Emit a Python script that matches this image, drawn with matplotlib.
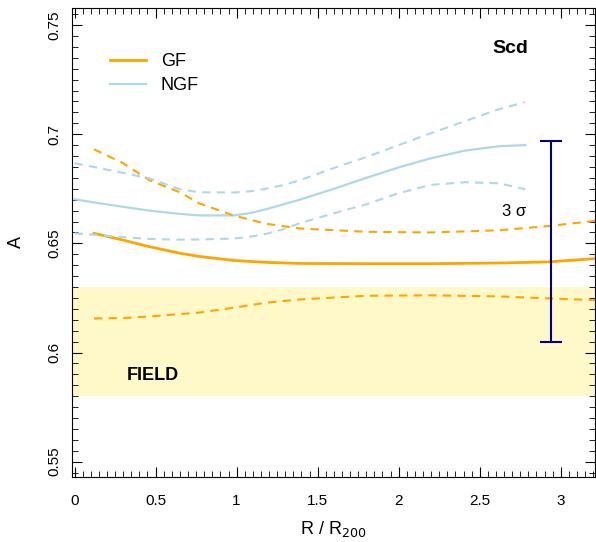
import matplotlib
matplotlib.use("Agg")
import matplotlib.pyplot as plt
from matplotlib.ticker import MultipleLocator

plt.rcParams["font.family"] = ["Liberation Sans", "DejaVu Sans"]

# GF (orange) median and bounds
gf_x = [0.12, 0.3, 0.46, 0.65, 0.77, 0.98, 1.18, 1.39, 1.8, 2.2, 2.62, 2.92, 3.21]
gf_mid = [0.6546, 0.6515, 0.6485, 0.6455, 0.6440, 0.6422, 0.6413, 0.6408, 0.6407, 0.6407, 0.6410, 0.6415, 0.6430]
gf_hi = [0.6931, 0.6867, 0.6790, 0.6734, 0.6683, 0.6628, 0.6590, 0.6568, 0.6553, 0.6550, 0.6560, 0.6579, 0.6603]
gf_lo = [0.6156, 0.6158, 0.6165, 0.6176, 0.6183, 0.6205, 0.6228, 0.6243, 0.6260, 0.6262, 0.6257, 0.6248, 0.6240]

# NGF (light blue) median and bounds
ngf_x = [0.0, 0.16, 0.46, 0.65, 0.77, 0.98, 1.08, 1.18, 1.28, 1.39, 1.6, 1.8, 2.0, 2.2, 2.41, 2.62, 2.78]
ngf_mid = [0.6702, 0.6683, 0.6650, 0.6635, 0.6628, 0.6628, 0.6638, 0.6656, 0.6677, 0.6700, 0.6750, 0.6800, 0.6848, 0.6890, 0.6925, 0.6945, 0.6950]
ngf_hi = [0.6867, 0.6844, 0.6798, 0.6748, 0.6734, 0.6733, 0.6738, 0.6750, 0.6766, 0.6789, 0.6845, 0.6895, 0.6950, 0.7005, 0.7060, 0.7115, 0.7147]
ngf_lo = [0.6546, 0.6537, 0.6520, 0.6517, 0.6518, 0.6522, 0.6530, 0.6543, 0.6563, 0.6592, 0.6638, 0.6679, 0.6730, 0.6768, 0.6780, 0.6775, 0.6748]

field_lo, field_hi = 0.58, 0.63
err_x, err_lo, err_hi = 2.94, 0.6046, 0.697

fig = plt.figure(figsize=(5.96, 5.42), dpi=100)
ax = fig.add_axes([0.121, 0.12, 0.877, 0.866])

ax.axhspan(field_lo, field_hi, color="#fff8c8", lw=0, zorder=0)

orange, blue = "#ffa500", "#add8e6"
ax.plot(gf_x, gf_mid, color=orange, lw=2, label="GF")
ax.plot(ngf_x, ngf_mid, color=blue, lw=1.6, label="NGF")
ax.plot(gf_x, gf_hi, color=orange, lw=1.5, ls=(0, (4, 3)))
ax.plot(gf_x, gf_lo, color=orange, lw=1.5, ls=(0, (4, 3)))
ax.plot(ngf_x, ngf_hi, color=blue, lw=1.5, ls=(0, (4, 3)))
ax.plot(ngf_x, ngf_lo, color=blue, lw=1.5, ls=(0, (4, 3)))

ax.errorbar([err_x], [(err_lo + err_hi) / 2], yerr=[(err_hi - err_lo) / 2],
            color="#000080", lw=1.5, capsize=8, capthick=1.5, fmt="none")

ax.text(2.71, 0.6647, "3 σ", fontsize=12, ha="center", va="center")
ax.text(2.69, 0.7394, "Scd", fontsize=14, fontweight="bold", ha="center", va="center")
ax.text(0.32, 0.5894, "FIELD", fontsize=13, fontweight="bold", ha="left", va="center")

ax.set_xlim(-0.015, 3.21)
ax.set_ylim(0.543, 0.758)
ax.xaxis.set_minor_locator(MultipleLocator(0.05))
ax.yaxis.set_minor_locator(MultipleLocator(0.005))
ax.set_xticks([0, 0.5, 1, 1.5, 2, 2.5, 3])
ax.set_xticklabels(["0", "0.5", "1", "1.5", "2", "2.5", "3"])
ax.set_yticks([0.55, 0.6, 0.65, 0.7, 0.75])
ax.set_yticklabels(["0.55", "0.6", "0.65", "0.7", "0.75"], rotation=90, va="center")
ax.tick_params(which="both", direction="in", top=True, right=True, labelsize=11)
ax.tick_params(which="major", length=7)
ax.tick_params(which="minor", length=4)
ax.tick_params(axis="x", pad=12)
ax.tick_params(axis="y", pad=8)

ax.set_xlabel("R / R$_{200}$", fontsize=13, labelpad=8)
ax.set_ylabel("A", fontsize=13, labelpad=16)

ax.legend(loc="upper left", bbox_to_anchor=(0.042, 0.938), frameon=False,
          fontsize=13, handlelength=2.0, labelspacing=0.4)

fig.savefig("out.png", dpi=100)
